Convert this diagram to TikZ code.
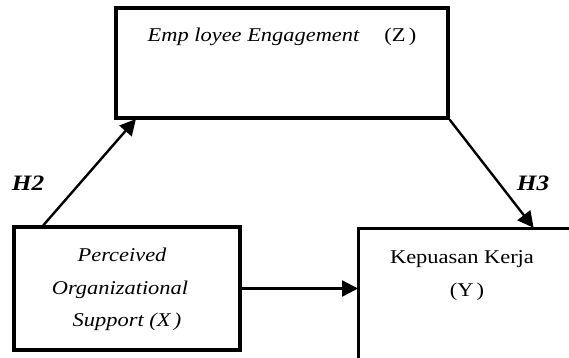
\documentclass[tikz,border=0pt]{standalone}
\usepackage{fontspec}
\setmainfont{Liberation Serif}[FakeStretch=1.15]
\usetikzlibrary{arrows.meta,calc}
\tikzset{
  box/.style={draw=black, line width=3.4pt, rectangle, inner sep=0pt},
  txt/.style={font=\fontsize{19.5}{32}\selectfont, align=center, inner sep=0pt},
  hyp/.style={font=\fontsize{22}{24}\selectfont\bfseries\itshape, inner sep=0pt},
  conn/.style={line width=2.4pt, -{Triangle[length=16pt,width=16pt]}, shorten >=-1pt}
}
\begin{document}
\begin{tikzpicture}[x=1pt,y=-1pt]
\clip (0,0) rectangle (569,357);
\fill[white] (0,0) rectangle (569,357);
% boxes
\node[box, minimum width=332pt, minimum height=110pt] (Z) at (282,63) {};
\node[box, minimum width=226pt, minimum height=123pt] (X) at (127,288.5) {};
\node[box, anchor=north west, minimum width=260pt, minimum height=170pt] (Y) at (357,227) {};
% texts
\node[txt, anchor=base] (zt) at (282,41) {\itshape Emp loyee Engagement\quad\ \upshape (Z\,)};
\node[txt, anchor=base] (xt1) at (122,261) {\itshape Perceived};
\node[txt, anchor=base] (xt2) at (120,294) {\itshape Organizational};
\node[txt, anchor=base] (xt3) at (127,326) {\itshape Support (X\,)};
\node[txt, anchor=base] (yt1) at (462,263) {Kepuasan Kerja};
\node[txt, anchor=base] (yt2) at (467,296) {(Y\,)};
% connectors
\draw[conn] ($(X.north west)+(31,0)$) -- ($(Z.south west)+(21,0)$);
\draw[conn] (Z.south east) -- ($(Y.north west)+(176,0)$);
\draw[conn] (X.east) -- (X.east -| Y.west);
% hypothesis labels
\node[hyp] (h2) at (28,183) {H2};
\node[hyp] (h3) at (533,183) {H3};
\end{tikzpicture}
\end{document}
